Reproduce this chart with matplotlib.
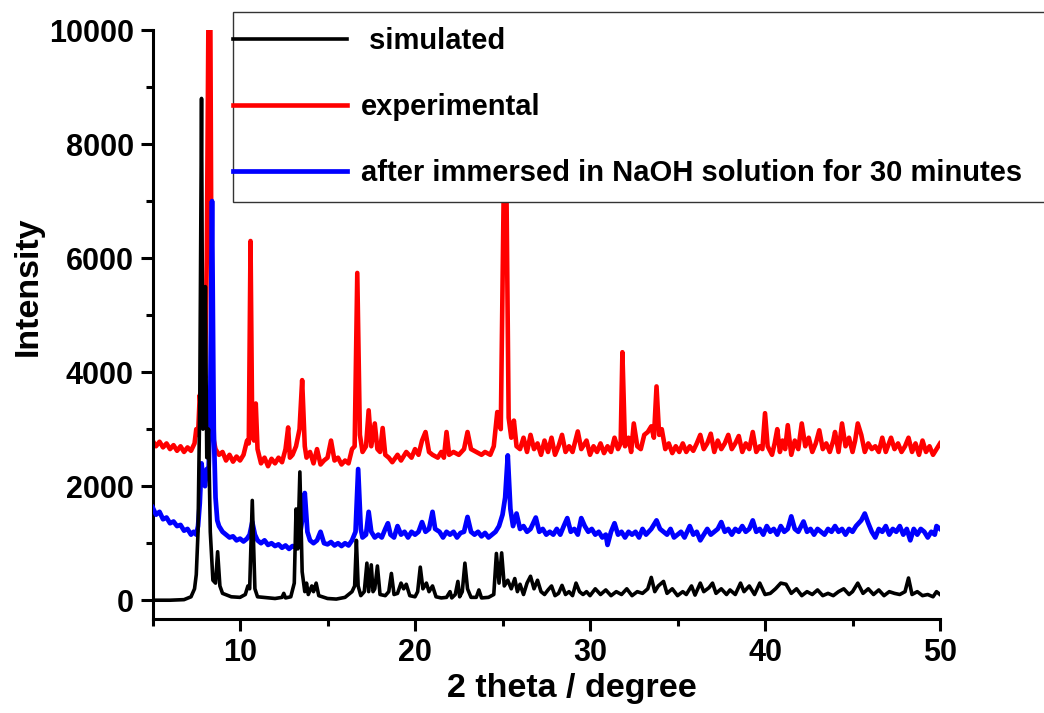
import matplotlib.pyplot as plt
from matplotlib.patches import Rectangle
import numpy as np

plt.rcParams['font.family'] = ['Liberation Sans', 'DejaVu Sans']
plt.rcParams['font.weight'] = 'bold'

# (2 theta, intensity)
simulated = np.array([
    (5.0, 0), (6.0, 0), (6.8, 10), (7.2, 60), (7.4, 200), (7.5, 450), (7.6, 1200),
    (7.7, 3500), (7.8, 8800), (7.88, 3000), (7.95, 3200), (8.02, 5500), (8.1, 2500),
    (8.2, 3000), (8.3, 1200), (8.45, 350), (8.6, 300), (8.72, 850), (8.85, 250),
    (9.0, 120), (9.5, 60), (10.0, 50), (10.3, 100), (10.45, 250), (10.55, 200),
    (10.7, 1750), (10.85, 200), (11.0, 60), (12.0, 30), (12.4, 50), (12.5, 120),
    (12.6, 40), (12.9, 60), (13.1, 300), (13.2, 1600), (13.3, 900), (13.42, 2250),
    (13.55, 500), (13.7, 150), (13.8, 300), (13.9, 100), (14.1, 250), (14.2, 150),
    (14.35, 300), (14.5, 80), (15.0, 30), (15.5, 20), (16.0, 50), (16.4, 150),
    (16.55, 250), (16.65, 1050), (16.75, 250), (16.9, 80), (17.1, 150), (17.25, 650),
    (17.35, 150), (17.5, 620), (17.6, 150), (17.7, 200), (17.85, 600), (18.0, 100),
    (18.3, 80), (18.5, 150), (18.65, 470), (18.8, 100), (19.0, 120), (19.2, 300),
    (19.35, 200), (19.5, 280), (19.7, 80), (20.0, 60), (20.15, 150), (20.3, 580),
    (20.45, 200), (20.65, 300), (20.8, 150), (21.0, 250), (21.2, 60), (21.5, 40),
    (21.8, 50), (22.0, 150), (22.1, 40), (22.3, 100), (22.45, 330), (22.55, 60),
    (22.7, 150), (22.85, 650), (23.0, 200), (23.2, 50), (23.5, 50), (23.65, 180),
    (23.8, 40), (24.2, 50), (24.5, 100), (24.65, 820), (24.8, 300), (24.95, 830),
    (25.1, 250), (25.3, 350), (25.5, 200), (25.7, 380), (25.85, 150), (26.0, 280),
    (26.2, 100), (26.4, 300), (26.6, 420), (26.8, 200), (27.0, 350), (27.2, 150),
    (27.4, 100), (27.6, 180), (27.8, 250), (28.0, 80), (28.2, 120), (28.4, 260),
    (28.6, 100), (28.8, 150), (29.0, 80), (29.2, 300), (29.4, 150), (29.6, 100),
    (29.8, 150), (30.0, 80), (30.3, 200), (30.6, 100), (30.9, 180), (31.2, 80),
    (31.5, 150), (31.8, 100), (32.1, 200), (32.4, 80), (32.7, 150), (33.0, 120),
    (33.3, 200), (33.5, 400), (33.7, 150), (33.9, 250), (34.2, 330), (34.4, 120),
    (34.7, 200), (35.0, 80), (35.3, 150), (35.5, 100), (35.8, 250), (36.0, 90),
    (36.3, 300), (36.5, 150), (36.8, 220), (37.0, 300), (37.2, 120), (37.5, 200),
    (37.8, 100), (38.0, 180), (38.3, 100), (38.6, 300), (38.8, 150), (39.1, 250),
    (39.4, 100), (39.7, 300), (40.0, 100), (40.3, 120), (40.6, 200), (40.9, 300),
    (41.2, 280), (41.5, 120), (41.8, 200), (42.1, 80), (42.4, 150), (42.7, 100),
    (43.0, 180), (43.3, 80), (43.6, 120), (43.9, 80), (44.2, 150), (44.5, 200),
    (44.8, 100), (45.0, 150), (45.3, 300), (45.6, 120), (45.9, 200), (46.2, 100),
    (46.5, 180), (46.8, 80), (47.1, 150), (47.4, 120), (47.7, 100), (48.0, 150),
    (48.2, 390), (48.4, 100), (48.7, 150), (49.0, 80), (49.3, 100), (49.6, 60),
    (49.8, 150), (50.0, 100),
])

experimental = np.array([
    (5.0, 2800), (5.2, 2700), (5.4, 2780), (5.6, 2680), (5.8, 2750), (6.0, 2650),
    (6.2, 2720), (6.4, 2620), (6.6, 2700), (6.8, 2600), (7.0, 2680), (7.2, 2620),
    (7.4, 2750), (7.5, 3000), (7.6, 2900), (7.7, 3600), (7.8, 3200), (7.9, 4200),
    (8.0, 3900), (8.1, 6000), (8.2, 10500), (8.3, 10500), (8.4, 3400), (8.5, 2800),
    (8.6, 2650), (8.8, 2550), (9.0, 2600), (9.2, 2450), (9.4, 2550), (9.6, 2430),
    (9.8, 2520), (10.0, 2450), (10.2, 2550), (10.4, 2800), (10.5, 2750), (10.6, 6300),
    (10.7, 2900), (10.8, 2800), (10.9, 3450), (11.0, 2650), (11.2, 2400), (11.4, 2500),
    (11.6, 2350), (11.8, 2480), (12.0, 2400), (12.2, 2500), (12.4, 2420), (12.6, 2650),
    (12.75, 3030), (12.85, 2500), (13.0, 2550), (13.2, 2700), (13.4, 3000), (13.55, 3860),
    (13.7, 2700), (13.8, 2500), (14.0, 2600), (14.2, 2400), (14.4, 2650), (14.6, 2380),
    (14.8, 2450), (15.0, 2500), (15.2, 2800), (15.4, 2450), (15.6, 2500), (15.8, 2380),
    (16.0, 2450), (16.2, 2400), (16.4, 2650), (16.55, 2700), (16.7, 5740), (16.85, 2900),
    (17.0, 2600), (17.2, 2700), (17.35, 3330), (17.5, 2700), (17.7, 3100), (17.85, 2650),
    (18.0, 2600), (18.15, 3020), (18.3, 2550), (18.5, 2500), (18.7, 2420), (19.0, 2550),
    (19.2, 2450), (19.5, 2600), (19.8, 2500), (20.0, 2650), (20.2, 2550), (20.4, 2800),
    (20.6, 2950), (20.8, 2600), (21.0, 2550), (21.3, 2500), (21.5, 2600), (21.65, 2500),
    (21.8, 2950), (21.95, 2550), (22.2, 2600), (22.5, 2550), (22.8, 2650), (23.0, 2950),
    (23.2, 2650), (23.5, 2600), (23.8, 2550), (24.0, 2600), (24.3, 2550), (24.5, 2700),
    (24.7, 3300), (24.9, 3000), (25.1, 8000), (25.2, 8000), (25.35, 3200), (25.5, 2850),
    (25.65, 3150), (25.8, 2700), (26.0, 2650), (26.2, 2850), (26.4, 2600), (26.6, 2900),
    (26.8, 2650), (27.0, 2750), (27.2, 2550), (27.4, 2800), (27.6, 2600), (27.8, 2850),
    (28.0, 2550), (28.2, 2700), (28.4, 2900), (28.6, 2600), (28.8, 2700), (29.0, 2600),
    (29.3, 2960), (29.5, 2650), (29.8, 2800), (30.0, 2550), (30.2, 2700), (30.4, 2600),
    (30.6, 2750), (30.8, 2580), (31.0, 2700), (31.2, 2600), (31.4, 2850), (31.6, 2650),
    (31.75, 2750), (31.85, 4350), (32.0, 2700), (32.2, 2850), (32.35, 2600), (32.5, 3100),
    (32.7, 2700), (32.9, 2650), (33.1, 2900), (33.3, 2950), (33.5, 3050), (33.65, 2850),
    (33.8, 3750), (33.95, 2900), (34.1, 3000), (34.3, 2650), (34.5, 2750), (34.7, 2580),
    (34.9, 2700), (35.1, 2600), (35.3, 2750), (35.5, 2600), (35.7, 2700), (35.9, 2620),
    (36.1, 2750), (36.3, 2900), (36.5, 2650), (36.7, 2750), (36.9, 2920), (37.1, 2600),
    (37.3, 2800), (37.5, 2650), (37.7, 2750), (37.9, 2900), (38.1, 2650), (38.3, 2750),
    (38.5, 2880), (38.7, 2600), (38.9, 2750), (39.1, 2650), (39.3, 2950), (39.5, 2600),
    (39.7, 2700), (39.85, 2650), (40.0, 3280), (40.15, 2700), (40.4, 2550), (40.55, 2750),
    (40.7, 3000), (40.85, 2600), (41.0, 2800), (41.15, 2650), (41.3, 3070), (41.5, 2550),
    (41.7, 2800), (41.9, 2650), (42.1, 3100), (42.3, 2700), (42.5, 2850), (42.7, 2600),
    (42.9, 2750), (43.1, 2980), (43.3, 2650), (43.5, 2750), (43.7, 2600), (43.9, 2800),
    (44.0, 2950), (44.2, 2600), (44.4, 3100), (44.6, 2700), (44.8, 2850), (45.0, 2600),
    (45.15, 2800), (45.3, 3100), (45.5, 2900), (45.7, 2600), (45.9, 2750), (46.1, 2650),
    (46.3, 2700), (46.5, 2600), (46.7, 2850), (46.9, 2600), (47.2, 2850), (47.4, 2650),
    (47.6, 2750), (47.8, 2600), (48.0, 2700), (48.2, 2850), (48.4, 2600), (48.6, 2750),
    (48.8, 2550), (49.0, 2800), (49.2, 2600), (49.4, 2700), (49.6, 2550), (49.8, 2650),
    (50.0, 2750),
])

naoh_30min = np.array([
    (5.0, 1630), (5.2, 1500), (5.4, 1550), (5.6, 1420), (5.8, 1450), (6.0, 1350),
    (6.2, 1380), (6.4, 1300), (6.6, 1320), (6.8, 1220), (7.0, 1250), (7.2, 1150),
    (7.35, 1200), (7.5, 1150), (7.6, 1300), (7.7, 1700), (7.8, 2400), (7.9, 2100),
    (8.0, 2000), (8.1, 2300), (8.2, 2200), (8.3, 3500), (8.4, 7000), (8.5, 3000),
    (8.6, 1800), (8.7, 1400), (8.8, 1300), (9.0, 1200), (9.2, 1150), (9.4, 1100),
    (9.6, 1120), (9.8, 1050), (10.0, 1080), (10.2, 1030), (10.4, 1080), (10.55, 1150),
    (10.7, 1370), (10.85, 1150), (11.0, 1050), (11.2, 1000), (11.4, 1050), (11.6, 970),
    (11.8, 1000), (12.0, 950), (12.2, 980), (12.4, 920), (12.6, 960), (12.8, 900),
    (13.0, 950), (13.2, 920), (13.4, 1100), (13.55, 1400), (13.7, 1880), (13.85, 1200),
    (14.0, 1050), (14.2, 1000), (14.4, 1050), (14.6, 1200), (14.8, 1000), (15.0, 980),
    (15.2, 1020), (15.4, 960), (15.6, 1000), (15.8, 950), (16.0, 1000), (16.2, 960),
    (16.4, 1050), (16.6, 1200), (16.75, 2300), (16.9, 1250), (17.0, 1100), (17.2, 1150),
    (17.35, 1550), (17.5, 1200), (17.7, 1100), (17.9, 1150), (18.1, 1100), (18.3, 1250),
    (18.45, 1350), (18.6, 1150), (18.8, 1100), (19.0, 1300), (19.2, 1150), (19.4, 1200),
    (19.6, 1100), (19.8, 1200), (20.0, 1150), (20.2, 1200), (20.4, 1370), (20.6, 1200),
    (20.8, 1250), (21.0, 1550), (21.15, 1250), (21.4, 1200), (21.6, 1100), (21.8, 1200),
    (22.0, 1150), (22.2, 1200), (22.4, 1100), (22.6, 1180), (22.8, 1200), (23.0, 1460),
    (23.2, 1200), (23.4, 1150), (23.6, 1200), (23.8, 1120), (24.0, 1180), (24.2, 1100),
    (24.4, 1150), (24.6, 1200), (24.8, 1300), (25.0, 1500), (25.15, 1800), (25.3, 2540),
    (25.45, 1600), (25.6, 1300), (25.8, 1520), (26.0, 1250), (26.2, 1300), (26.4, 1200),
    (26.6, 1250), (26.9, 1450), (27.1, 1200), (27.3, 1250), (27.5, 1150), (27.7, 1200),
    (27.9, 1150), (28.1, 1250), (28.3, 1150), (28.5, 1300), (28.7, 1440), (28.9, 1200),
    (29.1, 1250), (29.3, 1150), (29.5, 1440), (29.7, 1300), (29.9, 1200), (30.1, 1250),
    (30.3, 1150), (30.5, 1200), (30.7, 1100), (30.9, 1150), (31.0, 970), (31.2, 1200),
    (31.4, 1350), (31.6, 1150), (31.8, 1200), (32.0, 1100), (32.2, 1200), (32.4, 1150),
    (32.6, 1200), (32.8, 1100), (33.0, 1250), (33.2, 1150), (33.5, 1250), (33.8, 1400),
    (34.0, 1250), (34.2, 1200), (34.4, 1150), (34.6, 1250), (34.8, 1100), (35.0, 1150),
    (35.2, 1200), (35.4, 1100), (35.7, 1300), (35.9, 1150), (36.1, 1200), (36.3, 1050),
    (36.5, 1150), (36.7, 1250), (36.9, 1150), (37.1, 1200), (37.3, 1250), (37.5, 1370),
    (37.7, 1200), (37.9, 1250), (38.1, 1150), (38.3, 1250), (38.5, 1200), (38.7, 1300),
    (38.9, 1200), (39.1, 1250), (39.3, 1400), (39.5, 1200), (39.7, 1250), (39.9, 1150),
    (40.1, 1300), (40.3, 1200), (40.5, 1250), (40.7, 1150), (40.9, 1300), (41.1, 1200),
    (41.3, 1250), (41.5, 1470), (41.7, 1250), (41.9, 1200), (42.2, 1380), (42.4, 1200),
    (42.6, 1250), (42.8, 1150), (43.0, 1250), (43.2, 1200), (43.4, 1150), (43.6, 1250),
    (43.8, 1200), (44.0, 1300), (44.2, 1200), (44.4, 1250), (44.6, 1150), (44.8, 1250),
    (45.0, 1200), (45.2, 1300), (45.5, 1400), (45.7, 1520), (45.9, 1350), (46.1, 1200),
    (46.3, 1100), (46.5, 1250), (46.7, 1200), (46.9, 1300), (47.1, 1150), (47.3, 1250),
    (47.5, 1200), (47.7, 1300), (47.9, 1150), (48.1, 1250), (48.3, 1050), (48.5, 1250),
    (48.7, 1150), (48.9, 1250), (49.1, 1200), (49.3, 1100), (49.5, 1200), (49.7, 1150),
    (49.8, 1300), (50.0, 1250),
])

labels = [' simulated', 'experimental', 'after immersed in NaOH solution for 30 minutes']

fig = plt.figure(figsize=(10.44, 7.13), dpi=100)
ax = fig.add_axes([0.1461, 0.1318, 0.7543, 0.8261])

l_exp, = ax.plot(experimental[:, 0], experimental[:, 1], color='#ff0000', lw=3.3, zorder=2)
l_naoh, = ax.plot(naoh_30min[:, 0], naoh_30min[:, 1], color='#0000ff', lw=3.4, zorder=3)
l_sim, = ax.plot(simulated[:, 0], simulated[:, 1], color='black', lw=2.6, zorder=4)

ax.set_xlim(5, 50)
ax.set_ylim(-330, 10000)
ax.set_xticks([10, 20, 30, 40, 50])
ax.set_xticks([5, 15, 25, 35, 45], minor=True)
ax.set_yticks([0, 2000, 4000, 6000, 8000, 10000])
ax.set_yticks([1000, 3000, 5000, 7000, 9000], minor=True)

for side in ['top', 'right']:
    ax.spines[side].set_visible(False)
for side in ['left', 'bottom']:
    ax.spines[side].set_linewidth(2.2)

ax.tick_params(which='major', direction='out', length=8.5, width=2.2, labelsize=22, pad=5)
ax.tick_params(which='minor', direction='out', length=5, width=2.2)

ax.set_xlabel('2 theta / degree', fontsize=24.5, fontweight='bold')
ax.set_ylabel('Intensity', fontsize=24.5, fontweight='bold')
ax.xaxis.set_label_coords(0.533, -0.092)
ax.yaxis.set_label_coords(-0.138, 0.565)

# legend box: white, sits over the plot and runs off the right edge
box = Rectangle((233 / 1044, 1 - 202 / 713), 0.82, 190 / 713, transform=fig.transFigure,
                facecolor='white', edgecolor='#333333', lw=1.0, zorder=2)
fig.patches.append(box)

fig.legend([l_sim, l_exp, l_naoh], labels, loc='upper left',
           bbox_to_anchor=(233 / 1044, 1 - 27 / 713), bbox_transform=fig.transFigure,
           borderaxespad=0, borderpad=0, handlelength=3.9, handletextpad=0.5,
           labelspacing=1.3, fontsize=21, frameon=False).set_zorder(5)

fig.savefig('out.png', dpi=100)
